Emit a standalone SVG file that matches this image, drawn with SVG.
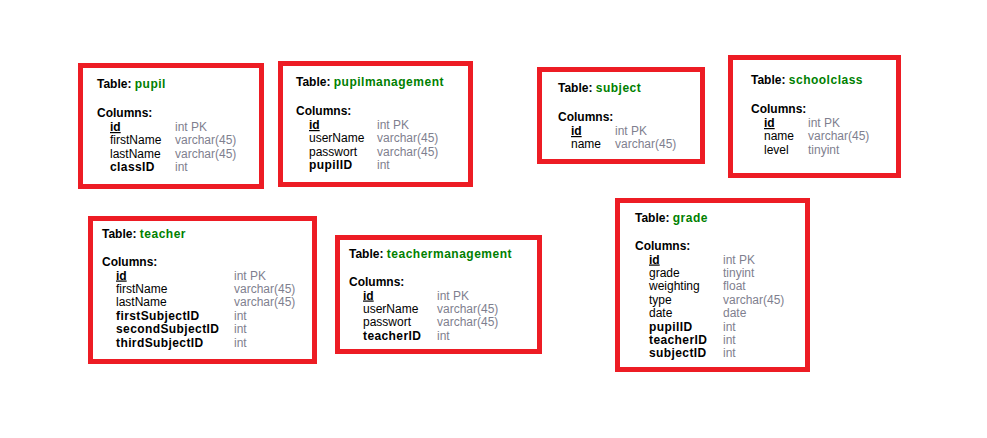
<svg xmlns="http://www.w3.org/2000/svg" width="987" height="438" viewBox="0 0 987 438">
<style>
.box{fill:#fff;stroke:#ed1c24;stroke-width:5}
text{font-family:"Liberation Sans",Arial,sans-serif;font-size:12px;fill:#000}
.h{font-weight:bold}
.n{fill:#008000;letter-spacing:0.5px}
.k{font-weight:bold;text-decoration:underline}
.b{font-weight:bold;letter-spacing:0.4px}
.t{fill:#7f7f8f}
</style>
<rect width="987" height="438" fill="#fff"/>
<g id="pupil">
<rect class="box" x="80.5" y="65.5" width="181" height="121"/>
<text class="h" x="97" y="88">Table: <tspan class="n">pupil</tspan></text>
<text class="h" x="97" y="117">Columns:</text>
<text class="k" x="110" y="131">id</text><text class="t" x="175" y="131">int PK</text>
<text x="110" y="144.4">firstName</text><text class="t" x="175" y="144.4">varchar(45)</text>
<text x="110" y="157.8">lastName</text><text class="t" x="175" y="157.8">varchar(45)</text>
<text class="b" x="110" y="171.2">classID</text><text class="t" x="175" y="171.2">int</text>
</g>
<g id="pupilmanagement">
<rect class="box" x="280.5" y="63.5" width="190" height="121"/>
<text class="h" x="296" y="86">Table: <tspan class="n">pupilmanagement</tspan></text>
<text class="h" x="296" y="115">Columns:</text>
<text class="k" x="309" y="129">id</text><text class="t" x="377" y="129">int PK</text>
<text x="309" y="142.4">userName</text><text class="t" x="377" y="142.4">varchar(45)</text>
<text x="309" y="155.8">passwort</text><text class="t" x="377" y="155.8">varchar(45)</text>
<text class="b" x="309" y="169.2">pupilID</text><text class="t" x="377" y="169.2">int</text>
</g>
<g id="subject">
<rect class="box" x="539.5" y="69.5" width="163" height="92"/>
<text class="h" x="558" y="92">Table: <tspan class="n">subject</tspan></text>
<text class="h" x="558" y="121">Columns:</text>
<text class="k" x="571" y="135">id</text><text class="t" x="615" y="135">int PK</text>
<text x="571" y="148.4">name</text><text class="t" x="615" y="148.4">varchar(45)</text>
</g>
<g id="schoolclass">
<rect class="box" x="730.5" y="57.5" width="168" height="118"/>
<text class="h" x="751" y="84">Table: <tspan class="n">schoolclass</tspan></text>
<text class="h" x="751" y="113">Columns:</text>
<text class="k" x="764" y="127">id</text><text class="t" x="808" y="127">int PK</text>
<text x="764" y="140.4">name</text><text class="t" x="808" y="140.4">varchar(45)</text>
<text x="764" y="153.8">level</text><text class="t" x="808" y="153.8">tinyint</text>
</g>
<g id="teacher">
<rect class="box" x="90.5" y="218.5" width="224" height="143"/>
<text class="h" x="102" y="238">Table: <tspan class="n">teacher</tspan></text>
<text class="h" x="102" y="266">Columns:</text>
<text class="k" x="116" y="279.5">id</text><text class="t" x="234" y="279.5">int PK</text>
<text x="116" y="292.9">firstName</text><text class="t" x="234" y="292.9">varchar(45)</text>
<text x="116" y="306.3">lastName</text><text class="t" x="234" y="306.3">varchar(45)</text>
<text class="b" x="116" y="319.7">firstSubjectID</text><text class="t" x="234" y="319.7">int</text>
<text class="b" x="116" y="333.1">secondSubjectID</text><text class="t" x="234" y="333.1">int</text>
<text class="b" x="116" y="346.5">thirdSubjectID</text><text class="t" x="234" y="346.5">int</text>
</g>
<g id="teachermanagement">
<rect class="box" x="337.5" y="237.5" width="202" height="114"/>
<text class="h" x="349" y="258">Table: <tspan class="n">teachermanagement</tspan></text>
<text class="h" x="349" y="286">Columns:</text>
<text class="k" x="363" y="299.5">id</text><text class="t" x="437" y="299.5">int PK</text>
<text x="363" y="312.9">userName</text><text class="t" x="437" y="312.9">varchar(45)</text>
<text x="363" y="326.3">passwort</text><text class="t" x="437" y="326.3">varchar(45)</text>
<text class="b" x="363" y="339.7">teacherID</text><text class="t" x="437" y="339.7">int</text>
</g>
<g id="grade">
<rect class="box" x="617.5" y="200.5" width="190" height="169"/>
<text class="h" x="635" y="222">Table: <tspan class="n">grade</tspan></text>
<text class="h" x="635" y="250">Columns:</text>
<text class="k" x="649" y="263.5">id</text><text class="t" x="723" y="263.5">int PK</text>
<text x="649" y="276.9">grade</text><text class="t" x="723" y="276.9">tinyint</text>
<text x="649" y="290.3">weighting</text><text class="t" x="723" y="290.3">float</text>
<text x="649" y="303.7">type</text><text class="t" x="723" y="303.7">varchar(45)</text>
<text x="649" y="317.1">date</text><text class="t" x="723" y="317.1">date</text>
<text class="b" x="649" y="330.5">pupilID</text><text class="t" x="723" y="330.5">int</text>
<text class="b" x="649" y="343.9">teacherID</text><text class="t" x="723" y="343.9">int</text>
<text class="b" x="649" y="357.3">subjectID</text><text class="t" x="723" y="357.3">int</text>
</g>
<g id="connectors"></g>
</svg>
